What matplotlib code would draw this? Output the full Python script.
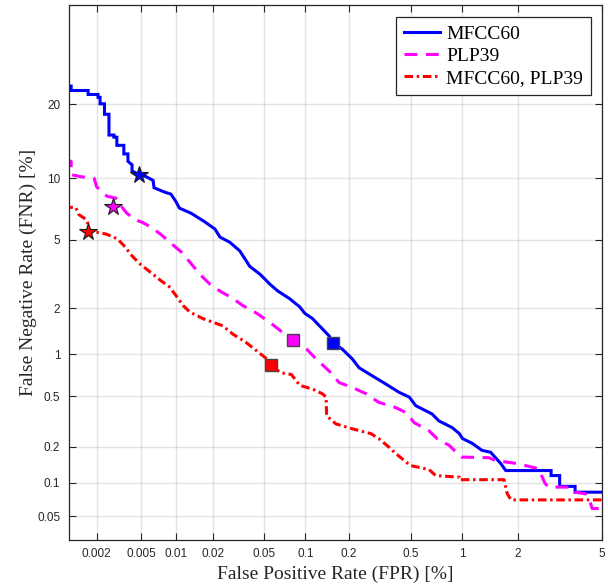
import numpy as np
import matplotlib
matplotlib.use("Agg")
import matplotlib.pyplot as plt
from matplotlib.ticker import FixedLocator, FixedFormatter, NullLocator
from statistics import NormalDist

# ---------------- data (values in %) ----------------
series_names = ["MFCC60", "PLP39", "MFCC60, PLP39"]

mfcc_fpr = [0.001, 0.00116, 0.00116, 0.00167, 0.00167, 0.00206, 0.00206, 0.00215, 0.00215, 0.00236,
            0.00236, 0.00259, 0.00259, 0.00287, 0.00287, 0.00305, 0.00305, 0.00352, 0.00352, 0.00383,
            0.00383, 0.00416, 0.00416, 0.0048, 0.00549, 0.00634, 0.00647, 0.00789, 0.009, 0.0099,
            0.0106, 0.0132, 0.0169, 0.0207, 0.0227, 0.0271, 0.0325, 0.0389, 0.0466, 0.0552,
            0.0632, 0.0772, 0.0912, 0.099, 0.1125, 0.132, 0.147, 0.155, 0.180, 0.211,
            0.234, 0.299, 0.347, 0.422, 0.489, 0.536, 0.67, 0.736, 0.879, 0.966,
            1.006, 1.139, 1.289, 1.435, 1.624, 1.728, 2.92, 2.92, 3.21, 3.21,
            3.79, 3.79, 5.0]
mfcc_fnr = [23.2, 23.2, 22.4, 22.4, 21.7, 21.7, 21.2, 21.2, 20.1, 20.1,
            18.4, 18.4, 15.3, 15.3, 15.0, 15.0, 13.9, 13.9, 12.8, 12.8,
            11.9, 11.5, 10.8, 10.4, 10.2, 9.8, 9.06, 8.66, 8.46, 7.81,
            7.24, 6.84, 6.22, 5.68, 5.15, 4.84, 4.34, 3.55, 3.20, 2.80,
            2.55, 2.29, 2.04, 1.86, 1.72, 1.475, 1.326, 1.195, 1.085, 0.926,
            0.803, 0.682, 0.616, 0.534, 0.491, 0.423, 0.366, 0.323, 0.286, 0.256,
            0.234, 0.214, 0.1875, 0.181, 0.146, 0.127, 0.127, 0.115, 0.115, 0.0927,
            0.0927, 0.0824, 0.0824]

plp_fpr = [0.001, 0.00116, 0.00116, 0.0014, 0.0019, 0.002, 0.00219, 0.00248, 0.00299, 0.00324,
           0.00375, 0.00451, 0.0051, 0.0061, 0.00743, 0.00906, 0.011, 0.0132, 0.0157, 0.0189,
           0.0227, 0.028, 0.0343, 0.0439, 0.0552, 0.0687, 0.0816, 0.1019, 0.119, 0.147,
           0.172, 0.211, 0.258, 0.314, 0.402, 0.466, 0.524, 0.643, 0.717, 0.844,
           0.989, 1.406, 1.527, 1.956, 2.53, 2.73, 2.83, 3.64, 3.79, 4.23,
           4.38, 4.53, 5.0]
plp_fnr = [12.1, 11.9, 10.4, 10.2, 10.0, 9.16, 8.76, 8.27, 8.09, 7.55,
           6.82, 6.31, 6.15, 5.81, 5.31, 4.76, 4.28, 3.70, 3.20, 2.80,
           2.55, 2.33, 2.08, 1.86, 1.626, 1.395, 1.241, 1.085, 0.926, 0.761,
           0.629, 0.579, 0.523, 0.449, 0.41, 0.375, 0.313, 0.27, 0.234, 0.206,
           0.165, 0.163, 0.154, 0.146, 0.132, 0.0986, 0.0914, 0.0914, 0.0824, 0.0798,
           0.0724, 0.0589, 0.0589]

fused_fpr = [0.001, 0.00128, 0.00137, 0.00153, 0.00164, 0.0017, 0.0017, 0.00204, 0.00242, 0.00287,
             0.00318, 0.00365, 0.00405, 0.00433, 0.00498, 0.00567, 0.00755, 0.00867, 0.01, 0.0114,
             0.013, 0.0166, 0.0239, 0.0286, 0.0366, 0.0439, 0.0523, 0.0557, 0.0664, 0.0793,
             0.0912, 0.1125, 0.132, 0.14, 0.141, 0.1635, 0.211, 0.28, 0.314, 0.364,
             0.402, 0.441, 0.497, 0.643, 0.704, 0.966, 0.966, 1.692, 1.757, 1.839,
             5.0]
fused_fnr = [7.30, 7.30, 6.72, 6.46, 6.22, 5.77, 5.45, 5.45, 5.35, 5.15,
             4.95, 4.53, 4.15, 3.97, 3.63, 3.40, 2.91, 2.72, 2.38, 2.08,
             1.89, 1.72, 1.547, 1.368, 1.195, 1.052, 0.926, 0.84, 0.74, 0.72,
             0.60, 0.564, 0.52, 0.491, 0.354, 0.306, 0.28, 0.256, 0.234, 0.2,
             0.177, 0.16, 0.14, 0.1296, 0.115, 0.1115, 0.106, 0.106, 0.0802, 0.0704,
             0.0704]

# operating points: star and square per system
star_fpr = [0.0048, 0.00283, 0.00167]
star_fnr = [10.4, 7.33, 5.45]
square_fpr = [0.155, 0.0816, 0.0557]
square_fnr = [1.195, 1.24, 0.84]

xtick_vals = [0.002, 0.005, 0.01, 0.02, 0.05, 0.1, 0.2, 0.5, 1, 2, 5]
xtick_labels = ["0.002", "0.005", "0.01", "0.02", "0.05", "0.1", "0.2", "0.5", "1", "2", "5"]
ytick_vals = [0.05, 0.1, 0.2, 0.5, 1, 2, 5, 10, 20]
ytick_labels = ["0.05", "0.1", "0.2", "0.5", "1", "2", "5", "10", "20"]

# ---------------- probit scale ----------------
_nd = NormalDist()
_ppf = np.vectorize(lambda p: _nd.inv_cdf(p) if np.isfinite(p) else np.nan, otypes=[float])
_cdf = np.vectorize(lambda z: _nd.cdf(z) if np.isfinite(z) else np.nan, otypes=[float])


def fwd(x):
    x = np.asarray(x, dtype=float)
    p = np.clip(x / 100.0, 1e-9, 1 - 1e-9)
    return _ppf(p)


def inv(z):
    z = np.asarray(z, dtype=float)
    return _cdf(z) * 100.0


# ---------------- figure ----------------
fig = plt.figure(figsize=(6.08, 5.84), dpi=100)
ax = fig.add_axes([0.113, 0.0753, 0.877, 0.9153])
ax.set_xscale("function", functions=(fwd, inv))
ax.set_yscale("function", functions=(fwd, inv))

colors = ["#0000ff", "#ff00ff", "#ff0000"]
lw = 2.2
l1, = ax.plot(mfcc_fpr, mfcc_fnr, color=colors[0], lw=lw, solid_joinstyle="miter")
l2, = ax.plot(plp_fpr, plp_fnr, color=colors[1], lw=lw, linestyle=(0, (4.2, 2.8)))
l3, = ax.plot(fused_fpr, fused_fnr, color=colors[2], lw=lw, linestyle=(0, (2.8, 1.2, 0.8, 1.2)))

for i in range(3):
    ax.plot(star_fpr[i], star_fnr[i], marker="*", markersize=13, markerfacecolor=colors[i],
            markeredgecolor="#1a1a1a", markeredgewidth=0.8, linestyle="none", zorder=5)
    ax.plot(square_fpr[i], square_fnr[i], marker="s", markersize=9, markerfacecolor=colors[i],
            markeredgecolor="#444444", markeredgewidth=1.0, linestyle="none", zorder=5)

ax.set_xlim(0.0011, 5)
ax.set_ylim(0.03, 40)

ax.xaxis.set_major_locator(FixedLocator(xtick_vals))
ax.xaxis.set_major_formatter(FixedFormatter(xtick_labels))
ax.yaxis.set_major_locator(FixedLocator(ytick_vals))
ax.yaxis.set_major_formatter(FixedFormatter(ytick_labels))
ax.xaxis.set_minor_locator(NullLocator())
ax.yaxis.set_minor_locator(NullLocator())

axcol = "#262626"
ax.tick_params(axis="both", which="major", direction="in", length=5, width=0.8,
               colors=axcol, labelsize=8.5, top=True, right=True, pad=6)
for lab in ax.get_xticklabels() + ax.get_yticklabels():
    lab.set_fontfamily("Liberation Sans")
for sp in ax.spines.values():
    sp.set_color(axcol)
    sp.set_linewidth(0.9)

ax.grid(True, which="major", color="#262626", alpha=0.12, linewidth=1.0)
ax.set_axisbelow(True)

serif = "Liberation Serif"
ax.set_xlabel("False Positive Rate (FPR) [%]", fontsize=14, family=serif, color=axcol, labelpad=4)
ax.set_ylabel("False Negative Rate (FNR) [%]", fontsize=14, family=serif, color=axcol, labelpad=0)

leg = ax.legend([l1, l2, l3], series_names, loc="upper right", bbox_to_anchor=(0.979, 0.978),
                borderaxespad=0, prop={"family": serif, "size": 14}, fancybox=False,
                framealpha=1, edgecolor=axcol, handlelength=1.85, handletextpad=0.3,
                labelspacing=0.24, borderpad=0.4)
leg.get_frame().set_linewidth(0.9)

fig.savefig("out.png", dpi=100)
